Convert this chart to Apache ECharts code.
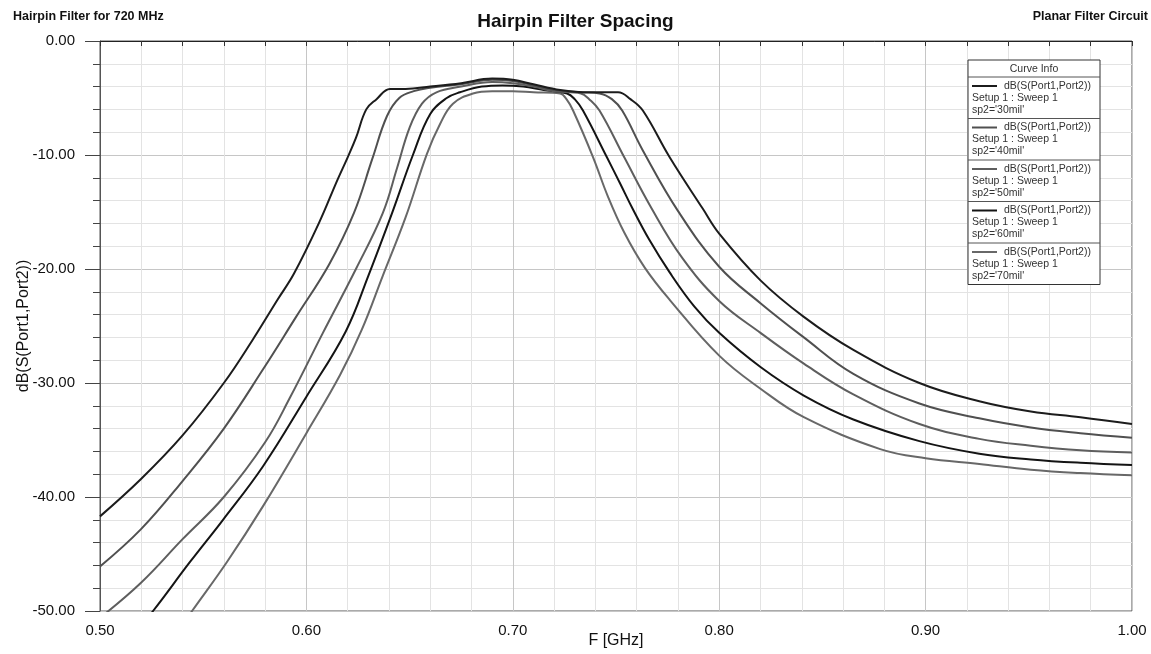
<!DOCTYPE html>
<html>
<head>
<meta charset="utf-8">
<script src="https://cdn.jsdelivr.net/npm/echarts@6/dist/echarts.min.js"></script>
<style>
html,body{margin:0;padding:0;background:#fff;}
#c{width:1151px;height:654px;}
</style>
</head>
<body>
<div id="c"></div>
<script>
// ---- data (GHz, dB) ----
const freq30 = [0.500,0.520,0.540,0.560,0.574,0.586,0.594,0.606,0.615,0.620,0.624,0.629,0.634,0.6405,0.648,0.660,0.675,0.690,0.700,0.710,0.723,0.737,0.751,0.757,0.763,0.776,0.792,0.800,0.820,0.841,0.865,0.897,0.926,0.951,0.975,1.000];
const db30   = [-41.7,-38.4,-34.6,-30.0,-26.2,-22.7,-20.4,-16.0,-12.2,-10.2,-8.5,-6.0,-5.1,-4.2,-4.2,-4.0,-3.7,-3.3,-3.4,-3.8,-4.3,-4.5,-4.5,-5.1,-6.1,-10.2,-14.7,-16.9,-21.0,-24.2,-27.1,-30.0,-31.6,-32.5,-33.0,-33.6];

const freq40 = [0.500,0.520,0.540,0.560,0.579,0.595,0.611,0.623,0.632,0.639,0.645,0.652,0.660,0.675,0.690,0.700,0.710,0.720,0.733,0.742,0.748,0.753,0.763,0.780,0.800,0.820,0.841,0.865,0.897,0.926,0.951,0.975,1.000];
const db40   = [-46.1,-42.8,-38.6,-34.0,-28.8,-24.2,-19.6,-15.1,-10.3,-6.6,-5.0,-4.4,-4.1,-3.8,-3.4,-3.5,-3.9,-4.3,-4.5,-4.6,-5.1,-6.1,-9.6,-14.9,-19.8,-23.0,-26.0,-29.2,-31.8,-33.1,-33.9,-34.4,-34.8];

const freq50 = [0.500,0.520,0.540,0.560,0.580,0.592,0.608,0.624,0.637,0.644,0.650,0.656,0.663,0.675,0.690,0.700,0.710,0.720,0.733,0.737,0.742,0.754,0.767,0.782,0.800,0.820,0.841,0.865,0.897,0.926,0.951,0.975,1.000];
const db50   = [-50.6,-47.5,-43.7,-40.0,-35.2,-31.3,-25.6,-20.0,-15.1,-11.1,-7.6,-5.5,-4.5,-4.0,-3.6,-3.7,-4.0,-4.4,-4.6,-5.1,-6.1,-10.2,-14.6,-19.0,-22.8,-25.6,-28.3,-31.0,-33.6,-34.9,-35.5,-35.9,-36.1];

const freq60 = [0.520,0.5257,0.5436,0.5596,0.579,0.600,0.619,0.630,0.6415,0.6516,0.660,0.668,0.6744,0.685,0.695,0.705,0.715,0.7263,0.730,0.734,0.7456,0.752,0.758,0.766,0.776,0.788,0.800,0.820,0.841,0.865,0.897,0.926,0.951,0.975,1.000];
const db60   = [-51.2,-50.0,-45.7,-42.0,-37.3,-31.2,-25.5,-20.6,-15.1,-10.0,-6.4,-5.0,-4.5,-4.0,-3.9,-4.0,-4.3,-4.6,-5.1,-6.1,-10.2,-12.5,-14.7,-17.4,-20.3,-23.3,-25.6,-28.6,-31.1,-33.2,-35.1,-36.2,-36.7,-37.0,-37.2];

const freq70 = [0.540,0.5446,0.5615,0.579,0.600,0.6163,0.6269,0.637,0.648,0.6584,0.6647,0.671,0.6807,0.690,0.700,0.710,0.7229,0.726,0.7292,0.7389,0.746,0.754,0.764,0.776,0.800,0.820,0.841,0.878,0.900,0.926,0.951,0.975,1.000];
const db70   = [-51.2,-50.0,-45.7,-40.8,-34.4,-29.3,-25.3,-20.6,-15.5,-9.9,-7.3,-5.5,-4.6,-4.4,-4.4,-4.5,-4.6,-5.1,-6.1,-10.2,-13.6,-16.8,-19.9,-22.7,-27.6,-30.5,-33.0,-35.8,-36.6,-37.1,-37.6,-37.9,-38.1];

const spacings = ["30mil","40mil","50mil","60mil","70mil"];
const curveColors = ["#1c1c1c","#505050","#5e5e5e","#141414","#686868"];
const xTicks = [0.5, 0.6, 0.7, 0.8, 0.9, 1.0];
const yTicks = [-50, -40, -30, -20, -10, 0];

const freqs = [freq30, freq40, freq50, freq60, freq70];
const dbs = [db30, db40, db50, db60, db70];

const FONT = "'Liberation Sans', Arial, sans-serif";

const series = spacings.map((s, k) => ({
  name: "sp2='" + s + "'",
  type: 'line',
  data: freqs[k].map((f, i) => [f, dbs[k][i]]),
  showSymbol: false,
  smooth: 0.4,
  clip: true,
  lineStyle: { color: curveColors[k], width: 2 },
  itemStyle: { color: curveColors[k] },
  z: 10 - k
}));

// legend box ("Curve Info") built from the arrays above
const boxL = 968, boxR = 1100, boxT = 60, headH = 17, rowH = 41.5;
const LFONT = '10.5px ' + FONT;
const legendEls = [];
legendEls.push({ type: 'rect', shape: { x: boxL, y: boxT, width: boxR - boxL, height: headH + rowH * spacings.length },
  style: { fill: '#fff', stroke: '#333', lineWidth: 1 }, z: 100 });
legendEls.push({ type: 'text', x: (boxL + boxR) / 2, y: boxT + headH / 2 + 0.5,
  style: { text: 'Curve Info', fill: '#333', font: LFONT, textAlign: 'center', textVerticalAlign: 'middle' }, z: 101 });
spacings.forEach((s, k) => {
  const top = boxT + headH + rowH * k;
  legendEls.push({ type: 'line', shape: { x1: boxL, y1: top, x2: boxR, y2: top }, style: { stroke: '#555', lineWidth: 1 }, z: 101 });
  legendEls.push({ type: 'line', shape: { x1: boxL + 4, y1: top + 9, x2: boxL + 29, y2: top + 9 }, style: { stroke: curveColors[k], lineWidth: 2 }, z: 101 });
  legendEls.push({ type: 'text', x: boxL + 36, y: top + 9,
    style: { text: 'dB(S(Port1,Port2))', fill: '#333', font: LFONT, textVerticalAlign: 'middle' }, z: 101 });
  legendEls.push({ type: 'text', x: boxL + 4, y: top + 21,
    style: { text: 'Setup 1 : Sweep 1', fill: '#333', font: LFONT, textVerticalAlign: 'middle' }, z: 101 });
  legendEls.push({ type: 'text', x: boxL + 4, y: top + 33,
    style: { text: "sp2='" + s + "'", fill: '#333', font: LFONT, textVerticalAlign: 'middle' }, z: 101 });
});

const chart = echarts.init(document.getElementById('c'), null, { renderer: 'canvas' });
chart.setOption({
  animation: false,
  backgroundColor: '#fff',
  title: [
    { text: 'Hairpin Filter Spacing', left: 'center', top: 7,
      textStyle: { fontFamily: FONT, fontSize: 19, fontWeight: 'bold', color: '#111' } },
    { text: 'Hairpin Filter for 720 MHz', left: 8, top: 5,
      textStyle: { fontFamily: FONT, fontSize: 12.5, fontWeight: 'bold', color: '#111' } },
    { text: 'Planar Filter Circuit', right: -2, top: 5,
      textStyle: { fontFamily: FONT, fontSize: 12.5, fontWeight: 'bold', color: '#111' } }
  ],
  grid: { left: 100, right: 19, top: 41, bottom: 42, show: true, borderColor: '#555', borderWidth: 1 },
  xAxis: {
    type: 'value', min: xTicks[0], max: xTicks[xTicks.length - 1], interval: 0.1,
    name: 'F [GHz]', nameLocation: 'middle', nameGap: 22, nameMoveOverlap: false,
    nameTextStyle: { fontFamily: FONT, fontSize: 16, color: '#111' },
    axisLine: { show: true, lineStyle: { color: '#222', width: 1 } },
    axisTick: { show: true, length: 5, lineStyle: { color: '#333' } },
    minorTick: { show: true, splitNumber: 5, length: 5, lineStyle: { color: '#333' } },
    axisLabel: { fontFamily: FONT, fontSize: 15, color: '#111', margin: 12,
      formatter: v => Number(v).toFixed(2) },
    splitLine: { show: true, lineStyle: { color: '#c6c6c6', width: 1 } },
    minorSplitLine: { show: true, lineStyle: { color: '#e3e3e3', width: 1 } }
  },
  yAxis: {
    type: 'value', min: yTicks[0], max: yTicks[yTicks.length - 1], interval: 10,
    name: 'dB(S(Port1,Port2))', nameLocation: 'middle', nameGap: 68, nameMoveOverlap: false,
    nameTextStyle: { fontFamily: FONT, fontSize: 16, color: '#111' },
    axisLine: { show: true, lineStyle: { color: '#555', width: 1 } },
    axisTick: { show: true, length: 15, lineStyle: { color: '#444' } },
    minorTick: { show: true, splitNumber: 5, length: 7, lineStyle: { color: '#444' } },
    axisLabel: { fontFamily: FONT, fontSize: 15, color: '#111', margin: 25,
      formatter: v => Number(v).toFixed(2) },
    splitLine: { show: true, lineStyle: { color: '#c6c6c6', width: 1 } },
    minorSplitLine: { show: true, lineStyle: { color: '#e3e3e3', width: 1 } }
  },
  graphic: legendEls,
  series: series
});
</script>
</body>
</html>
